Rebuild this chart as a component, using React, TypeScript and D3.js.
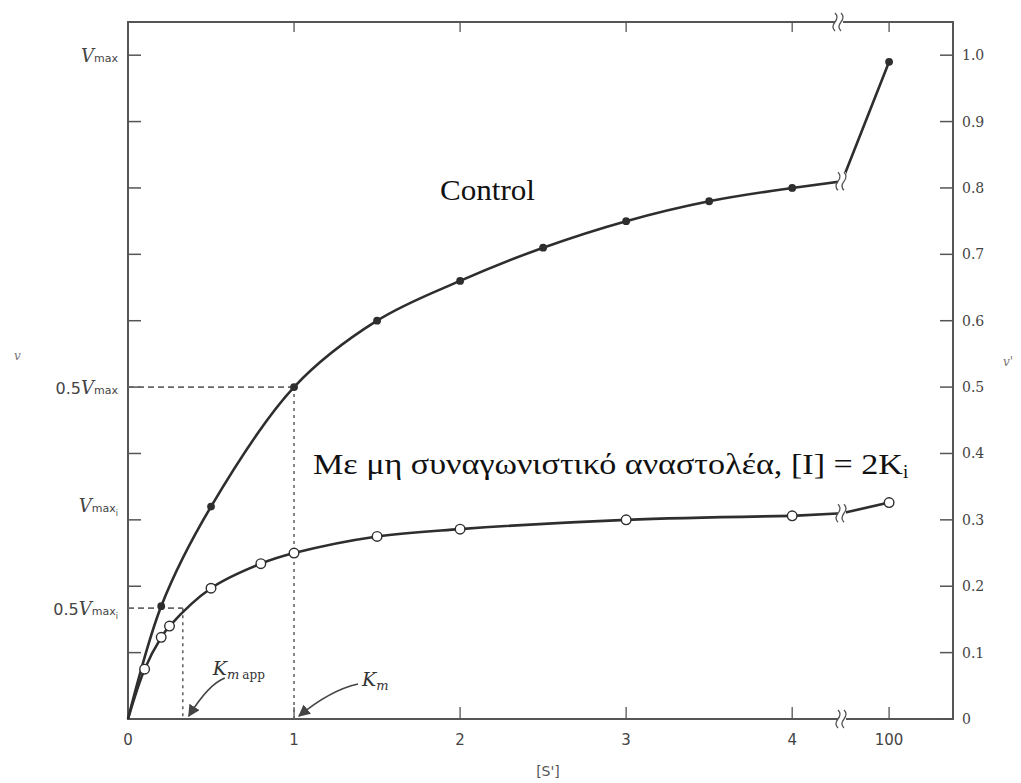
import React, { useEffect, useRef } from 'react'
import * as d3 from 'd3'

// substrate concentrations and velocities
const S_CONTROL = [0.2, 0.5, 1, 1.5, 2, 2.5, 3, 3.5, 4]
const V_CONTROL = [0.17, 0.32, 0.5, 0.6, 0.66, 0.71, 0.75, 0.78, 0.8]
const S_INHIB = [0.1, 0.2, 0.25, 0.5, 0.8, 1, 1.5, 2, 3, 4]
const V_INHIB = [0.075, 0.123, 0.14, 0.197, 0.234, 0.25, 0.275, 0.286, 0.3, 0.306]
const S_FAR = 100
const V_CONTROL_FAR = 0.99
const V_INHIB_FAR = 0.326
const S_BREAK = 4.3
const V_CONTROL_BREAK = 0.81
const V_INHIB_BREAK = 0.31

const X_TICKS = [0, 1, 2, 3, 4, 100]
const X_TICK_LABELS = ['0', '1', '2', '3', '4', '100']
const RIGHT_TICKS = [0, 0.1, 0.2, 0.3, 0.4, 0.5, 0.6, 0.7, 0.8, 0.9, 1.0]
const RIGHT_TICK_LABELS = ['0', '0.1', '0.2', '0.3', '0.4', '0.5', '0.6', '0.7', '0.8', '0.9', '1.0']
const LEFT_LABEL_VALUES = [1, 0.5, 0.333, 0.167]
const LEFT_LABELS = [
  { pre: '', sub: 'max', sub2: '' },
  { pre: '0.5', sub: 'max', sub2: '' },
  { pre: '', sub: 'max', sub2: 'i' },
  { pre: '0.5', sub: 'max', sub2: 'i' },
]
const KM = 1
const KM_APP = 0.33
const HALF_VMAX = 0.5
const HALF_VMAX_I = 0.167

const AXIS = '#555'
const LINE = '#2e2e2e'

function App() {
  const ref = useRef<SVGSVGElement>(null)

  useEffect(() => {
    const svg = d3.select(ref.current)
    svg.selectAll('*').remove()

    const left = 128, right = 953, top = 22, bottom = 719

    // broken x axis: 0..4.3 then jump to ~100
    const x = d3.scaleLinear()
      .domain([0, S_BREAK, 99.72, 100.38])
      .range([left, 842, 842, right])
    const y = d3.scaleLinear().domain([0, 1.05]).range([bottom, top])

    const breakMark = (g: any, cx: number, cy: number) => {
      g.append('rect').attr('x', cx - 4).attr('y', cy - 9).attr('width', 8).attr('height', 18).attr('fill', 'white')
      for (const dx of [-3, 3]) {
        g.append('path')
          .attr('d', `M${cx + dx - 1},${cy - 9} q4,4 0,9 q-4,5 0,9`)
          .attr('fill', 'none').attr('stroke', AXIS).attr('stroke-width', 1.3)
      }
    }

    // frame
    svg.append('rect')
      .attr('x', left).attr('y', top)
      .attr('width', right - left).attr('height', bottom - top)
      .attr('fill', 'none').attr('stroke', AXIS).attr('stroke-width', 2)

    // bottom & top ticks
    X_TICKS.filter(d => d > 0).forEach(d => {
      svg.append('line').attr('x1', x(d)).attr('x2', x(d)).attr('y1', bottom).attr('y2', bottom - 12)
        .attr('stroke', AXIS).attr('stroke-width', 1.3)
      svg.append('line').attr('x1', x(d)).attr('x2', x(d)).attr('y1', top).attr('y2', top + 10)
        .attr('stroke', AXIS).attr('stroke-width', 1.3)
    })
    svg.selectAll('text.xt').data(X_TICKS).enter().append('text')
      .attr('class', 'xt')
      .attr('x', d => x(d))
      .attr('y', 745)
      .attr('text-anchor', 'middle')
      .attr('font-family', 'DejaVu Sans')
      .attr('font-size', 15)
      .attr('fill', '#444')
      .text((d, i) => X_TICK_LABELS[i])
    svg.append('text').attr('x', 548).attr('y', 776).attr('text-anchor', 'middle')
      .attr('font-family', 'DejaVu Sans').attr('font-size', 14).attr('fill', AXIS).text("[S']")

    // right axis (and matching left ticks)
    RIGHT_TICKS.forEach((d, i) => {
      svg.append('line').attr('x1', right).attr('x2', right - 13).attr('y1', y(d)).attr('y2', y(d))
        .attr('stroke', AXIS).attr('stroke-width', 1.5)
      svg.append('text').attr('x', right + 9).attr('y', y(d) + 5)
        .attr('font-family', 'DejaVu Serif').attr('font-size', 14).attr('fill', '#444')
        .text(RIGHT_TICK_LABELS[i])
      if (d > 0) {
        svg.append('line').attr('x1', left).attr('x2', left + 13).attr('y1', y(d)).attr('y2', y(d))
          .attr('stroke', AXIS).attr('stroke-width', 1.5)
      }
    })

    // left labels
    LEFT_LABEL_VALUES.forEach((d, i) => {
      const lab = LEFT_LABELS[i]
      const t = svg.append('text').attr('x', 118).attr('y', y(d) + (lab.sub2 && !lab.pre ? 14 : 7))
        .attr('text-anchor', 'end').attr('font-family', 'DejaVu Sans')
        .attr('font-size', 16).attr('fill', '#444')
      if (lab.pre) t.append('tspan').text(lab.pre)
      t.append('tspan').attr('font-style', 'italic').attr('font-family', 'DejaVu Serif').attr('font-size', 18).text('V')
      t.append('tspan').attr('font-size', 11).text(lab.sub)
      if (lab.sub2) t.append('tspan').attr('font-size', 8).attr('dy', 4).text(lab.sub2)
    })

    svg.append('text').attr('x', 14).attr('y', 360).attr('font-family', 'DejaVu Serif')
      .attr('font-style', 'italic').attr('font-size', 12).attr('fill', '#777').text('v')
    svg.append('text').attr('x', 1003).attr('y', 366).attr('font-family', 'DejaVu Serif')
      .attr('font-style', 'italic').attr('font-size', 12).attr('fill', '#777').text("v'")

    // dashed guides
    const guide = (x1: number, y1: number, x2: number, y2: number, dash: string) =>
      svg.append('line').attr('x1', x1).attr('y1', y1).attr('x2', x2).attr('y2', y2)
        .attr('stroke', '#666').attr('stroke-width', 1.6).attr('stroke-dasharray', dash)
    guide(x(0), y(HALF_VMAX), x(KM), y(HALF_VMAX), '6,4')
    guide(x(KM), y(HALF_VMAX), x(KM), y(0), '3,4')
    guide(x(0), y(HALF_VMAX_I), x(KM_APP), y(HALF_VMAX_I), '6,4')
    guide(x(KM_APP), y(HALF_VMAX_I), x(KM_APP), y(0), '3,4')

    // curves
    const line = d3.line<[number, number]>().x(d => x(d[0])).y(d => y(d[1])).curve(d3.curveCatmullRom)
    const drawSeries = (sv: number[], vv: number[], vBreak: number, vFar: number, filled: boolean) => {
      const near: [number, number][] = [[0, 0], ...sv.map((s, i) => [s, vv[i]] as [number, number])]
      svg.append('path').attr('d', line(near)).attr('fill', 'none').attr('stroke', LINE).attr('stroke-width', 2.6)
      const last = near[near.length - 1]
      svg.append('path')
        .attr('d', d3.line<[number, number]>().x(d => x(d[0])).y(d => y(d[1]))([last, [S_BREAK, vBreak], [S_FAR, vFar]]))
        .attr('fill', 'none').attr('stroke', LINE).attr('stroke-width', 2.6)
      breakMark(svg, x(S_BREAK), y(vBreak))
      const pts = [...sv.map((s, i) => [s, vv[i]]), [S_FAR, vFar]]
      svg.selectAll(null).data(pts).enter().append('circle')
        .attr('cx', d => x(d[0])).attr('cy', d => y(d[1]))
        .attr('r', filled ? 3.2 : 4.8)
        .attr('fill', filled ? LINE : 'white')
        .attr('stroke', LINE).attr('stroke-width', 1.4)
    }
    drawSeries(S_CONTROL, V_CONTROL, V_CONTROL_BREAK, V_CONTROL_FAR, true)
    drawSeries(S_INHIB, V_INHIB, V_INHIB_BREAK, V_INHIB_FAR, false)

    breakMark(svg, x(S_BREAK), bottom)
    breakMark(svg, x(S_BREAK) - 3, top)

    // Km arrows
    const defs = svg.append('defs')
    defs.append('marker').attr('id', 'ah').attr('viewBox', '0 0 10 10')
      .attr('refX', 9).attr('refY', 5).attr('markerWidth', 7).attr('markerHeight', 7)
      .attr('orient', 'auto').append('path').attr('d', 'M0,0 L10,5 L0,10 z').attr('fill', '#444')
    const arrow = (sx: number, sy: number, ex: number, ey: number) =>
      svg.append('path')
        .attr('d', `M${sx},${sy} Q${(sx + ex) / 2 + 2},${sy + 6} ${ex},${ey}`)
        .attr('fill', 'none').attr('stroke', '#444').attr('stroke-width', 1.7).attr('marker-end', 'url(#ah)')
    arrow(x(KM_APP) + 42, 678, x(KM_APP) + 6, bottom - 3)
    arrow(x(KM) + 64, 684, x(KM) + 5, bottom - 3)

    const kApp = svg.append('text').attr('x', x(KM_APP) + 30).attr('y', 675)
      .attr('font-family', 'DejaVu Serif').attr('font-size', 19).attr('fill', '#333')
    kApp.append('tspan').attr('font-style', 'italic').text('K')
    kApp.append('tspan').attr('font-size', 13).attr('dy', 4).attr('font-style', 'italic').text('m')
    kApp.append('tspan').attr('font-size', 12).attr('dx', 3).text('app')
    const km = svg.append('text').attr('x', x(KM) + 68).attr('y', 686)
      .attr('font-family', 'DejaVu Serif').attr('font-size', 19).attr('fill', '#333')
    km.append('tspan').attr('font-style', 'italic').text('K')
    km.append('tspan').attr('font-size', 13).attr('dy', 4).attr('font-style', 'italic').text('m')

    // series labels
    svg.append('text').attr('x', 440).attr('y', 200)
      .attr('font-family', 'Liberation Serif').attr('font-size', 30).attr('fill', '#111')
      .attr('textLength', 95).attr('lengthAdjust', 'spacingAndGlyphs')
      .text('Control')
    const inh = svg.append('text').attr('x', 313).attr('y', 474)
      .attr('font-family', 'Liberation Serif').attr('font-size', 30).attr('fill', '#111')
    inh.append('tspan').attr('textLength', 590).attr('lengthAdjust', 'spacingAndGlyphs')
      .text('Με μη συναγωνιστικό αναστολέα, [I] = 2K')
    inh.append('tspan').attr('font-size', 19).attr('dy', 4).text('i')
  }, [])

  return (
    <svg ref={ref} width={1021} height={783}
      style={{ position: 'absolute', left: 0, top: 0, background: 'white' }} />
  )
}

export default App
